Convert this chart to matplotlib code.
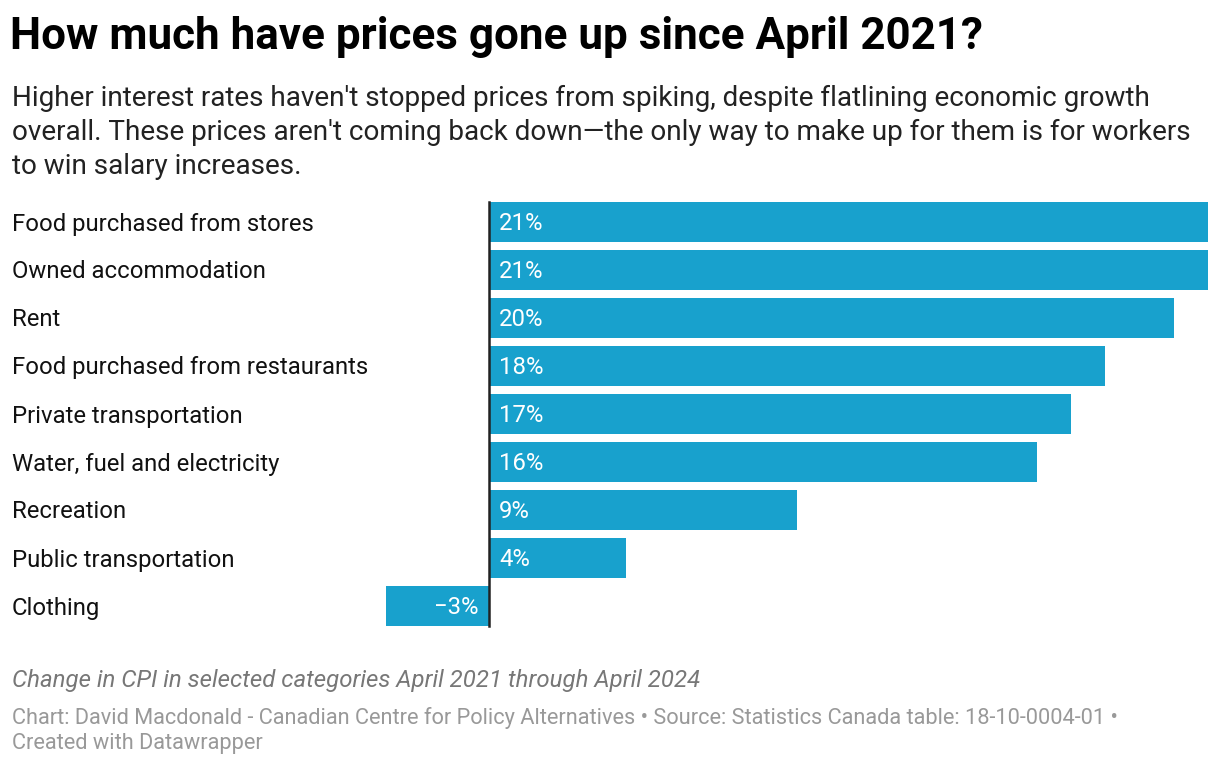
import matplotlib.pyplot as plt

plt.rcParams['font.family'] = ['Roboto', 'DejaVu Sans']

# Data
categories = ["Food purchased from stores", "Owned accommodation", "Rent",
              "Food purchased from restaurants", "Private transportation",
              "Water, fuel and electricity", "Recreation",
              "Public transportation", "Clothing"]
changes = [21, 21, 20, 18, 17, 16, 9, 4, -3]
value_labels = ["21%", "21%", "20%", "18%", "17%", "16%", "9%", "4%", "\u22123%"]

W, H = 1220, 766
fig = plt.figure(figsize=(W / 100, H / 100), dpi=100)
fig.patch.set_facecolor("white")

def fy(py):
    return 1 - py / H

# axes spanning pixel x 386..1208, y 198..630
ax = fig.add_axes([386 / W, fy(630), (1208 - 386) / W, (630 - 198) / H])
ypos = list(range(len(categories)))
ax.barh(ypos, changes, height=40 / 48, color="#18a1cd")
ax.set_xlim(-3, 21)
ax.set_ylim(len(categories) - 0.5, -0.5)
ax.axis("off")
ax.plot([0, 0], [-0.42, len(categories) - 0.58], color="#222222", lw=1.8)

# small downward nudge so text sits centred like the reference
dy = 2 / 48
for y, v, lab in zip(ypos, changes, value_labels):
    if v >= 0:
        ax.text(0.3, y + dy, lab, color="white", fontsize=17.2, va="center", ha="left")
    else:
        ax.text(-0.3, y + dy, lab, color="white", fontsize=17.2, va="center", ha="right")

for i, cat in enumerate(categories):
    fig.text(12 / W, fy(224 + 48 * i), cat, fontsize=17.2, va="center", ha="left", color="#111111")

fig.text(10 / W, fy(37), "How much have prices gone up since April 2021?",
         fontsize=31.7, fontweight="bold", va="center", ha="left", color="#000000")
sub = ["Higher interest rates haven't stopped prices from spiking, despite flatlining economic growth",
       "overall. These prices aren't coming back down\u2014the only way to make up for them is for workers",
       "to win salary increases."]
for i, line in enumerate(sub):
    fig.text(12 / W, fy(98 + 34 * i), line, fontsize=20.1, va="center", ha="left", color="#222222")

fig.text(12 / W, fy(681), "Change in CPI in selected categories April 2021 through April 2024",
         fontsize=17.3, style="italic", va="center", ha="left", color="#777777")
fig.text(12 / W, fy(718), "Chart: David Macdonald - Canadian Centre for Policy Alternatives \u2022 Source: Statistics Canada table: 18-10-0004-01 \u2022",
         fontsize=15.7, va="center", ha="left", color="#999999")
fig.text(12 / W, fy(744), "Created with Datawrapper",
         fontsize=15.7, va="center", ha="left", color="#999999")

fig.savefig("out.png", dpi=100)
